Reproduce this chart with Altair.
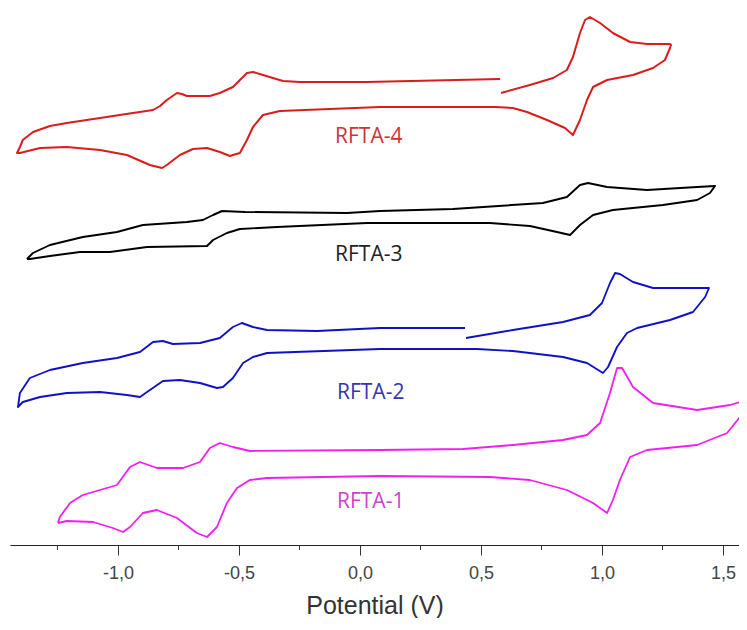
import altair as alt
import pandas as pd

# Potential (V) and current (arbitrary units, stacked offsets)
rfta4_v = [0.583, 0.702, 0.798, 0.855, 0.880, 0.909, 0.930, 0.950, 0.992, 1.045, 1.116, 1.186, 1.281, 1.285,
           1.281, 1.260, 1.211, 1.128, 1.021, 0.963, 0.938, 0.909, 0.880, 0.847, 0.773, 0.690, 0.632, 0.558,
           0.083, -0.331, -0.401, -0.442, -0.467, -0.496, -0.525, -0.537, -0.579, -0.632, -0.690, -0.744,
           -0.798, -0.818, -0.868, -0.963, -1.074, -1.211, -1.322, -1.405, -1.417,
           -1.405, -1.393, -1.351, -1.281, -1.211, -1.074, -0.938, -0.855, -0.826, -0.798, -0.756, -0.736,
           -0.715, -0.620, -0.579, -0.525, -0.496, -0.467, -0.442, -0.401, -0.318, -0.248, 0.029, 0.579]
rfta4_i = [452, 460, 467, 475, 488, 512, 525, 528, 522, 512, 503, 501, 501, 500,
           497, 485, 477, 470, 465, 458, 445, 425, 410, 417, 425, 433, 437, 438,
           438, 434, 430, 418, 405, 392, 390, 389, 393, 397, 396, 390,
           380, 377, 380, 390, 395, 398, 397, 392, 392,
           398, 405, 413, 419, 422, 427, 432, 435, 439, 445, 452, 451,
           449, 449, 452, 458, 465, 472, 473, 470, 464, 463, 463, 466]

rfta3_v = [-1.376, -1.351, -1.281, -1.145, -1.004, -0.897, -0.715, -0.649, -0.607, -0.570, -0.475, -0.054,
           0.083, 0.384, 0.756, 0.855, 0.909, 0.942, 1.021, 1.186, 1.393, 1.467,
           1.446, 1.393, 1.252, 1.045, 0.963, 0.909, 0.868, 0.814, 0.702, 0.537, 0.083, 0.029, -0.343,
           -0.496, -0.550, -0.607, -0.632, -0.880, -1.033, -1.157, -1.281, -1.364, -1.376]
rfta3_i = [286, 292, 300, 308, 313, 320, 323, 325, 330, 334, 333, 332,
           334, 336, 342, 348, 360, 362, 358, 355, 358, 359,
           352, 345, 340, 335, 330, 320, 310, 313, 319, 322, 322, 322, 318,
           316, 312, 305, 299, 298, 293, 293, 289, 286, 286]

rfta2_v = [0.438, 0.632, 0.839, 0.950, 1.000, 1.033, 1.054, 1.074, 1.128, 1.211, 1.434, 1.442,
           1.426, 1.376, 1.281, 1.145, 1.103, 1.062, 1.025, 1.004, 0.938, 0.839, 0.632, 0.483, 0.083,
           -0.384, -0.442, -0.483, -0.525, -0.566, -0.591, -0.661, -0.744, -0.814, -0.868, -0.909, -0.963,
           -1.074, -1.211, -1.322, -1.393, -1.413,
           -1.405, -1.364, -1.281, -1.145, -1.004, -0.909, -0.855, -0.814, -0.773, -0.661, -0.579, -0.525,
           -0.488, -0.442, -0.384, -0.178, 0.083, 0.434]
rfta2_i = [207, 215, 223, 230, 242, 262, 272, 271, 263, 257, 257, 257,
           248, 233, 225, 217, 212, 198, 178, 172, 182, 188, 194, 196, 196,
           192, 188, 182, 167, 158, 157, 162, 165, 164, 155, 148, 150,
           153, 152, 148, 143, 138,
           152, 167, 175, 182, 187, 193, 203, 204, 201, 202, 207, 218,
           222, 218, 215, 214, 217, 217]

rfta1_v = [-1.248, -1.240, -1.198, -1.145, -1.074, -1.004, -0.950, -0.909, -0.839, -0.731, -0.661, -0.620,
           -0.579, -0.525, -0.455, 0.083, 0.426, 0.632, 0.839, 0.938, 0.992, 1.033, 1.062, 1.083, 1.128,
           1.211, 1.393, 1.529, 1.599, 1.620,
           1.583, 1.517, 1.393, 1.186, 1.116, 1.074, 1.045, 1.021, 0.963, 0.855, 0.702, 0.537, 0.083,
           -0.384, -0.455, -0.508, -0.550, -0.591, -0.632, -0.674, -0.756, -0.839, -0.897, -0.950, -0.979,
           -1.021, -1.103, -1.211, -1.248]
rfta1_i = [22, 28, 42, 50, 55, 60, 78, 83, 77, 77, 83, 97,
           102, 98, 94, 95, 96, 100, 105, 110, 122, 152, 177, 177, 158,
           142, 135, 140, 145, 146,
           132, 112, 100, 95, 88, 65, 45, 32, 42, 55, 65, 68, 69,
           67, 65, 57, 42, 18, 8, 12, 27, 35, 32, 18, 13,
           17, 23, 24, 22]

series_names = ["RFTA-4", "RFTA-3", "RFTA-2", "RFTA-1"]
series_v = [rfta4_v, rfta3_v, rfta2_v, rfta1_v]
series_i = [rfta4_i, rfta3_i, rfta2_i, rfta1_i]
line_colors = ["#d91c1c", "#000000", "#1010c8", "#f01ef0"]
label_colors = ["#cc3333", "#222222", "#3434b4", "#cc44cc"]
line_widths = [2.0, 1.8, 2.6, 3.4]

label_x = [-0.103, -0.103, -0.095, -0.095]
label_y = [408, 290, 152, 43]

x_domain = [-1.446, 1.566]
major_ticks = [-1.0, -0.5, 0.0, 0.5, 1.0, 1.5]
minor_ticks = [-1.25, -0.75, -0.25, 0.25, 0.75, 1.25]

rows = []
for k, name in enumerate(series_names):
    for j, (v, i) in enumerate(zip(series_v[k], series_i[k])):
        rows.append({"series": name, "V": v, "I": i, "idx": j})
curves = pd.DataFrame(rows)
labels = pd.DataFrame({"series": series_names, "V": label_x, "I": label_y, "lc": label_colors})
minor_df = pd.DataFrame({"V": minor_ticks, "y0": [0] * len(minor_ticks), "y1": [-5] * len(minor_ticks)})

x_scale = alt.Scale(domain=x_domain, nice=False, zero=False)
y_scale = alt.Scale(domain=[0, 537], nice=False, zero=False)

axis_font = "Liberation Sans, Arial, sans-serif"
x_axis = alt.Axis(
    values=major_ticks,
    labelExpr="replace(replace(format(datum.value, '.1f'), '.', ','), '\u2212', '-')",
    tickSize=10,
    tickColor="#333333",
    domainColor="#222222",
    domainWidth=1.2,
    tickWidth=1,
    grid=False,
    labelFont=axis_font,
    labelFontSize=18,
    labelColor="#444444",
    labelPadding=9,
    title="Potential (V)",
    titleFont=axis_font,
    titleFontSize=25,
    titleFontWeight="normal",
    titleColor="#333333",
    titlePadding=11,
)

X = alt.X("V:Q", scale=x_scale, axis=x_axis)

lines = alt.Chart(curves).mark_line(clip=True, strokeJoin="round").encode(
    x=X,
    y=alt.Y("I:Q", scale=y_scale, axis=None),
    color=alt.Color("series:N", scale=alt.Scale(domain=series_names, range=line_colors), legend=None),
    strokeWidth=alt.StrokeWidth("series:N", scale=alt.Scale(domain=series_names, range=line_widths), legend=None),
    detail="series:N",
    order="idx:Q",
)

texts = alt.Chart(labels).mark_text(
    align="left", baseline="middle", font="Open Sans", fontSize=21
).encode(
    x=X,
    y=alt.Y("I:Q", scale=y_scale, axis=None),
    text="series:N",
    color=alt.Color("lc:N", scale=None),
)

minor = alt.Chart(minor_df).mark_rule(color="#333333", strokeWidth=1).encode(
    x=X,
    y=alt.Y("y0:Q", scale=y_scale, axis=None),
    y2="y1:Q",
)

chart = alt.layer(lines, texts, minor).resolve_scale(color="independent").properties(
    width=729,
    height=537,
    padding={"left": 2, "top": 0, "right": 0, "bottom": 0},
    background="white",
).configure_view(stroke=None)

chart.save("out.html", embed_options={"renderer": "svg", "actions": False})
